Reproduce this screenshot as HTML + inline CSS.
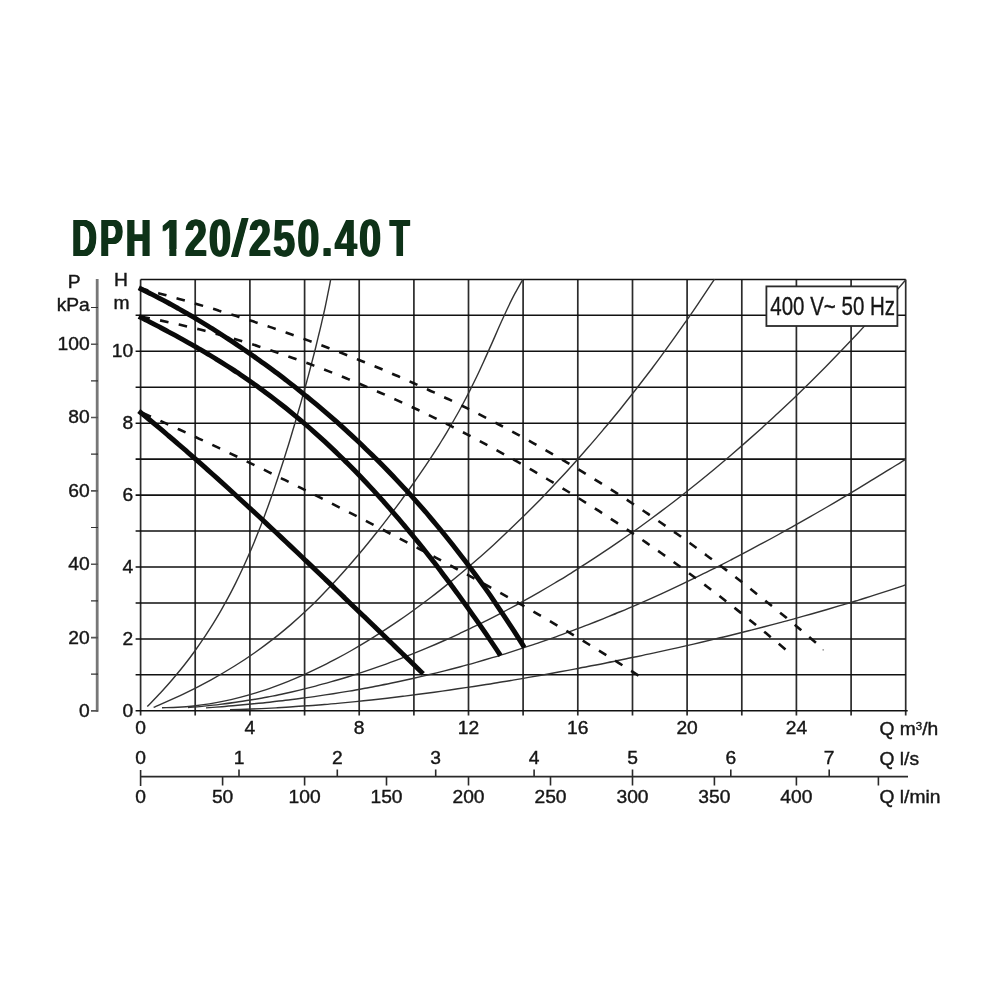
<!DOCTYPE html>
<html lang="en">
<head>
<meta charset="utf-8">
<title>DPH 120/250.40 T</title>
<style>
html,body{margin:0;padding:0;background:#fff;}
body{width:1000px;height:1000px;overflow:hidden;position:relative;}
svg{display:block;position:absolute;left:0;top:0;filter:blur(0.35px);}
text{font-family:"Liberation Sans",sans-serif;}
.gv{stroke:#2b2b2b;stroke-width:1.7;fill:none;}
.gh{stroke:#111;stroke-width:1.55;fill:none;}
.th{stroke:#333;stroke-width:1.4;fill:none;}
.da{stroke:#111;stroke-width:2.6;fill:none;stroke-dasharray:8.60 10.45;}
.tk{stroke:#0a0a0a;stroke-width:4.9;fill:none;stroke-linecap:butt;}
.lb{font-size:18.5px;fill:#161616;stroke:#161616;stroke-width:0.4px;}
.lg{font-size:25px;fill:#161616;stroke:#161616;stroke-width:0.35px;}
.tt{position:absolute;left:0;top:0;margin:0;width:1000px;height:0;font:bold 51.5px/1 "Liberation Sans",sans-serif;color:#0e3218;white-space:nowrap;filter:blur(0.35px);}
.tt span{position:absolute;top:213px;display:inline-block;transform-origin:0 0;}
.t1{left:71.6px;transform:scaleX(0.665);letter-spacing:4.9px;text-shadow:1.6px 0 0 #0e3218,-1.6px 0 0 #0e3218,0.8px 0 0 #0e3218,-0.8px 0 0 #0e3218;}
.t6{left:160.8px;transform:scaleX(0.765);text-shadow:1.2px 0 0 #0e3218,-1.2px 0 0 #0e3218;clip-path:polygon(0 0,100% 0,100% 70%,70% 70%,70% 100%,38% 100%,38% 70%,0 70%);}
.t2{left:184.9px;transform:scaleX(0.765);letter-spacing:2.75px;text-shadow:1.2px 0 0 #0e3218,-1.2px 0 0 #0e3218;}
.tt .t4{left:231px;transform:skewX(-5deg) scaleY(1.02);transform-origin:0 43.6px;text-shadow:0.5px 0 0 #0e3218,-0.5px 0 0 #0e3218;}
.t5{left:248.6px;transform:scaleX(0.765);letter-spacing:3.0px;text-shadow:1.2px 0 0 #0e3218,-1.2px 0 0 #0e3218;}
.t3{left:389.5px;transform:scaleX(0.62);text-shadow:1.6px 0 0 #0e3218,-1.6px 0 0 #0e3218,0.8px 0 0 #0e3218,-0.8px 0 0 #0e3218;}
</style>
</head>
<body>
<svg width="1000" height="1000" viewBox="0 0 1000 1000">
<rect width="1000" height="1000" fill="#fff"/>
<path class="gv" d="M140.6 279.4V715.6M195.2 279.4V715.6M249.9 279.4V715.6M304.6 279.4V715.6M359.2 279.4V715.6M413.9 279.4V715.6M468.5 279.4V715.6M523.1 279.4V715.6M577.8 279.4V715.6M632.5 279.4V715.6M687.1 279.4V715.6M741.8 279.4V715.6M796.4 279.4V715.6M851.1 279.4V715.6M905.7 279.4V715.6"/>
<path class="gh" d="M135.6 710.8H907.7M135.6 674.8H905.7M135.6 638.9H905.7M135.6 602.9H905.7M135.6 567H905.7M135.6 531H905.7M135.6 495.1H905.7M135.6 459.1H905.7M135.6 423.2H905.7M135.6 387.2H905.7M135.6 351.3H905.7M135.6 315.3H905.7M140.6 279.4H905.7"/>
<path class="th" d="M147.3 706.6C149.5 704.3 156.3 697.4 160.6 692.8C164.8 688.2 168.9 683.6 172.8 679C176.7 674.4 180.5 669.9 184.1 665.3C187.7 660.7 191.2 656.1 194.5 651.5C197.8 646.9 201 642.3 204.1 637.7C207.2 633.1 210.1 628.5 213 623.9C215.8 619.3 218.6 614.7 221.2 610.1C223.8 605.5 226.4 600.9 228.8 596.4C231.3 591.8 233.6 587.2 235.9 582.6C238.2 578 240.4 573.4 242.5 568.8C244.7 564.2 246.7 559.6 248.7 555C250.8 550.4 252.7 545.8 254.6 541.2C256.5 536.6 258.3 532 260.1 527.5C261.9 522.9 263.6 518.3 265.3 513.7C267 509.1 268.7 504.5 270.3 499.9C272 495.3 273.6 490.7 275.1 486.1C276.7 481.5 278.2 476.9 279.7 472.3C281.2 467.7 282.7 463.1 284.2 458.5C285.6 454 287 449.4 288.5 444.8C289.9 440.2 291.3 435.6 292.6 431C294 426.4 295.4 421.8 296.7 417.2C298 412.6 299.4 408 300.7 403.4C302 398.8 303.2 394.2 304.5 389.6C305.8 385.1 307 380.5 308.3 375.9C309.5 371.3 310.7 366.7 311.9 362.1C313.1 357.5 314.3 352.9 315.5 348.3C316.6 343.7 317.7 339.1 318.8 334.5C320 329.9 321 325.3 322.1 320.7C323.2 316.1 324.2 311.6 325.2 307C326.2 302.4 327.1 297.8 328 293.2C329 288.6 330.3 281.7 330.7 279.4"/>
<path class="th" d="M153.6 707.4C158.7 705.1 174.7 698.2 184.3 693.6C193.9 689 202.7 684.4 211.1 679.8C219.5 675.2 227.2 670.6 234.6 666C242 661.4 248.9 656.8 255.4 652.2C262 647.6 268.1 643 274 638.4C279.9 633.8 285.4 629.2 290.8 624.6C296.1 620 301.2 615.4 306.1 610.8C311 606.2 315.7 601.6 320.2 596.9C324.8 592.3 329.2 587.7 333.5 583.1C337.7 578.5 341.9 573.9 345.9 569.3C350 564.7 353.9 560.1 357.8 555.5C361.7 550.9 365.5 546.3 369.2 541.7C373 537.1 376.6 532.5 380.3 527.9C383.9 523.3 387.4 518.7 390.9 514.1C394.4 509.5 397.8 504.9 401.2 500.3C404.6 495.7 407.9 491.1 411.2 486.5C414.5 481.9 417.7 477.3 420.8 472.7C424 468.1 427.1 463.5 430.1 458.9C433.1 454.3 436.1 449.7 439 445.1C441.8 440.5 444.7 435.9 447.4 431.3C450.2 426.7 452.8 422.1 455.4 417.5C458.1 412.9 460.6 408.3 463 403.7C465.5 399.1 467.9 394.5 470.2 389.9C472.5 385.2 474.8 380.6 477 376C479.2 371.4 481.3 366.8 483.4 362.2C485.5 357.6 487.6 353 489.6 348.4C491.7 343.8 493.7 339.2 495.7 334.6C497.7 330 499.7 325.4 501.8 320.8C503.9 316.2 506 311.6 508.2 307C510.4 302.4 512.6 297.8 515.1 293.2C517.5 288.6 521.5 281.7 522.8 279.4"/>
<path class="th" d="M162 707.7C164.6 707.6 172.5 707.6 177.8 707.3C183 707 188.3 706.6 193.6 706C198.8 705.4 204.1 704.7 209.4 703.9C214.6 703 219.9 702 225.1 700.9C230.4 699.8 235.7 698.5 240.9 697.1C246.2 695.7 251.5 694.2 256.7 692.6C262 690.9 267.2 689.2 272.5 687.3C277.8 685.4 283 683.4 288.3 681.3C293.5 679.2 298.8 676.9 304.1 674.6C309.3 672.3 314.6 669.8 319.9 667.2C325.1 664.6 330.4 662 335.6 659.2C340.9 656.4 346.2 653.5 351.4 650.5C356.7 647.5 362 644.4 367.2 641.2C372.5 638 377.7 634.6 383 631.2C388.3 627.8 393.5 624.3 398.8 620.7C404 617.1 409.3 613.4 414.6 609.5C419.8 605.7 425.1 601.8 430.4 597.8C435.6 593.8 440.9 589.7 446.1 585.4C451.4 581.2 456.7 576.9 461.9 572.5C467.2 568.1 472.5 563.6 477.7 559C483 554.4 488.2 549.7 493.5 544.9C498.8 540.1 504 535.2 509.3 530.1C514.5 525.1 519.8 520 525.1 514.8C530.3 509.6 535.6 504.3 540.9 498.9C546.1 493.5 551.4 488 556.6 482.3C561.9 476.7 567.2 471 572.4 465.2C577.7 459.3 583 453.4 588.2 447.3C593.5 441.3 598.7 435.1 604 428.8C609.3 422.6 614.5 416.2 619.8 409.7C625 403.1 630.3 396.5 635.6 389.8C640.8 383 646.1 376.2 651.4 369.2C656.6 362.2 661.9 355.1 667.1 347.8C672.4 340.6 677.7 333.2 682.9 325.7C688.2 318.2 693.5 310.6 698.7 302.8C704 295 711.9 283 714.5 279.1"/>
<path class="th" d="M188 707.5C190.7 707.2 198.6 706.7 203.9 706.1C209.3 705.6 214.6 705.1 219.9 704.4C225.2 703.8 230.5 703.1 235.8 702.3C241.2 701.6 246.5 700.7 251.8 699.8C257.1 698.9 262.4 698 267.7 697C273.1 695.9 278.4 694.9 283.7 693.7C289 692.6 294.3 691.4 299.6 690.1C305 688.8 310.3 687.5 315.6 686.1C320.9 684.7 326.2 683.2 331.5 681.7C336.9 680.2 342.2 678.6 347.5 677C352.8 675.3 358.1 673.6 363.4 671.9C368.8 670.1 374.1 668.3 379.4 666.4C384.7 664.6 390 662.6 395.3 660.6C400.7 658.6 406 656.6 411.3 654.4C416.6 652.3 421.9 650.2 427.2 647.9C432.5 645.7 437.9 643.4 443.2 641C448.5 638.7 453.8 636.3 459.1 633.8C464.4 631.3 469.8 628.8 475.1 626.2C480.4 623.6 485.7 621 491 618.3C496.3 615.6 501.7 612.8 507 610C512.3 607.2 517.6 604.3 522.9 601.3C528.2 598.4 533.6 595.4 538.9 592.3C544.2 589.3 549.5 586.2 554.8 583C560.1 579.8 565.5 576.6 570.8 573.3C576.1 570 581.4 566.6 586.7 563.2C592 559.8 597.4 556.3 602.7 552.7C608 549.2 613.3 545.6 618.6 541.9C623.9 538.3 629.3 534.6 634.6 530.8C639.9 527 645.2 523.1 650.5 519.2C655.8 515.3 661.2 511.3 666.5 507.3C671.8 503.3 677.1 499.2 682.4 495C687.7 490.8 693 486.6 698.4 482.3C703.7 478 709 473.7 714.3 469.3C719.6 464.8 724.9 460.3 730.3 455.8C735.6 451.2 740.9 446.6 746.2 441.9C751.5 437.2 756.8 432.5 762.2 427.7C767.5 422.8 772.8 418 778.1 413C783.4 408 788.7 403 794.1 397.9C799.4 392.8 804.7 387.6 810 382.4C815.3 377.1 820.6 371.8 826 366.4C831.3 361 836.6 355.6 841.9 350.1C847.2 344.5 852.5 338.9 857.9 333.2C863.2 327.5 868.5 321.8 873.8 315.9C879.1 310.1 884.4 304.2 889.8 298.2C895.1 292.2 903 283 905.7 280"/>
<path class="th" d="M206 707.9C208.7 707.7 216.6 707.1 221.9 706.7C227.2 706.3 232.5 705.8 237.8 705.3C243.1 704.9 248.4 704.4 253.7 703.8C259 703.3 264.3 702.8 269.6 702.2C274.9 701.6 280.2 701 285.5 700.3C290.8 699.7 296.1 699 301.4 698.3C306.7 697.6 312 696.9 317.3 696.1C322.6 695.3 327.9 694.5 333.2 693.7C338.5 692.8 343.8 692 349.1 691.1C354.4 690.2 359.7 689.2 365 688.2C370.3 687.3 375.6 686.2 380.9 685.2C386.2 684.2 391.5 683.1 396.8 682C402.1 680.8 407.4 679.7 412.7 678.5C418 677.3 423.3 676 428.6 674.8C433.9 673.5 439.2 672.2 444.5 670.9C449.8 669.5 455.1 668.1 460.4 666.7C465.7 665.3 471 663.8 476.3 662.3C481.6 660.8 486.9 659.2 492.2 657.7C497.5 656.1 502.8 654.5 508.1 652.8C513.4 651.1 518.7 649.4 524 647.7C529.3 645.9 534.6 644.2 539.9 642.3C545.2 640.5 550.5 638.7 555.9 636.8C561.2 634.9 566.5 632.9 571.8 630.9C577.1 629 582.4 626.9 587.7 624.9C593 622.8 598.3 620.7 603.6 618.6C608.9 616.4 614.2 614.3 619.5 612C624.8 609.8 630.1 607.6 635.4 605.3C640.7 603 646 600.6 651.3 598.3C656.6 595.9 661.9 593.5 667.2 591.1C672.5 588.6 677.8 586.1 683.1 583.6C688.4 581.1 693.7 578.5 699 575.9C704.3 573.4 709.6 570.7 714.9 568.1C720.2 565.4 725.5 562.7 730.8 560C736.1 557.3 741.4 554.5 746.7 551.7C752 548.9 757.3 546.1 762.6 543.2C767.9 540.4 773.2 537.5 778.5 534.5C783.8 531.6 789.1 528.7 794.4 525.7C799.7 522.7 805 519.7 810.3 516.7C815.6 513.6 820.9 510.5 826.2 507.5C831.5 504.4 836.8 501.2 842.1 498.1C847.4 495 852.7 491.8 858 488.6C863.3 485.4 868.6 482.2 873.9 478.9C879.2 475.7 884.5 472.5 889.8 469.2C895.1 465.9 903 460.9 905.7 459.3"/>
<path class="th" d="M230 709.6C232.6 709.5 240.5 709.3 245.7 709.2C251 709 256.2 708.8 261.4 708.6C266.7 708.3 271.9 708.1 277.1 707.8C282.4 707.5 287.6 707.2 292.9 706.8C298.1 706.5 303.3 706.1 308.6 705.7C313.8 705.4 319 704.9 324.3 704.5C329.5 704.1 334.8 703.6 340 703.1C345.2 702.6 350.5 702.1 355.7 701.6C360.9 701.1 366.2 700.5 371.4 700C376.7 699.4 381.9 698.8 387.1 698.2C392.4 697.6 397.6 696.9 402.9 696.3C408.1 695.6 413.3 695 418.6 694.3C423.8 693.6 429 692.9 434.3 692.2C439.5 691.5 444.8 690.7 450 690C455.2 689.2 460.5 688.4 465.7 687.6C470.9 686.9 476.2 686.1 481.4 685.2C486.7 684.4 491.9 683.6 497.1 682.7C502.4 681.9 507.6 681 512.9 680.1C518.1 679.3 523.3 678.4 528.6 677.4C533.8 676.5 539 675.6 544.3 674.7C549.5 673.7 554.8 672.8 560 671.8C565.2 670.8 570.5 669.9 575.7 668.9C580.9 667.9 586.2 666.9 591.4 665.8C596.7 664.8 601.9 663.8 607.1 662.7C612.4 661.7 617.6 660.6 622.8 659.5C628.1 658.5 633.3 657.4 638.6 656.3C643.8 655.1 649 654 654.3 652.9C659.5 651.7 664.8 650.6 670 649.4C675.2 648.3 680.5 647.1 685.7 645.9C690.9 644.7 696.2 643.5 701.4 642.3C706.7 641 711.9 639.8 717.1 638.5C722.4 637.3 727.6 636 732.8 634.7C738.1 633.4 743.3 632.1 748.6 630.8C753.8 629.4 759 628.1 764.3 626.7C769.5 625.4 774.8 624 780 622.6C785.2 621.2 790.5 619.8 795.7 618.3C800.9 616.9 806.2 615.4 811.4 614C816.7 612.5 821.9 611 827.1 609.5C832.4 607.9 837.6 606.4 842.8 604.8C848.1 603.3 853.3 601.7 858.6 600.1C863.8 598.5 869 596.8 874.3 595.2C879.5 593.5 884.7 591.8 890 590.1C895.2 588.4 903.1 585.7 905.7 584.9"/>
<path class="da" stroke-dashoffset="-0.5" d="M139.3 288C141 288.4 145.9 289.8 149.3 290.7C152.6 291.6 155.9 292.5 159.2 293.4C162.5 294.3 165.9 295.2 169.2 296.1C172.5 297 175.8 298 179.1 298.9C182.5 299.9 185.8 300.8 189.1 301.8C192.4 302.7 195.7 303.7 199.1 304.7C202.4 305.7 205.7 306.6 209 307.6C212.3 308.6 215.7 309.6 219 310.7C222.3 311.7 225.6 312.7 228.9 313.7C232.3 314.8 235.6 315.8 238.9 316.9C242.2 317.9 245.5 319 248.9 320.1C252.2 321.1 255.5 322.2 258.8 323.3C262.1 324.4 265.5 325.5 268.8 326.6C272.1 327.8 275.4 328.9 278.7 330C282.1 331.2 285.4 332.3 288.7 333.5C292 334.6 295.3 335.8 298.7 337C302 338.2 305.3 339.4 308.6 340.6C311.9 341.8 315.3 343 318.6 344.3C321.9 345.5 325.2 346.7 328.5 348C331.9 349.3 335.2 350.5 338.5 351.8C341.8 353.1 345.1 354.4 348.5 355.7C351.8 357 355.1 358.3 358.4 359.7C361.7 361 365.1 362.4 368.4 363.7C371.7 365.1 375 366.4 378.3 367.8C381.7 369.2 385 370.6 388.3 372C391.6 373.5 394.9 374.9 398.3 376.3C401.6 377.8 404.9 379.2 408.2 380.7C411.5 382.2 414.9 383.7 418.2 385.2C421.5 386.7 424.8 388.2 428.1 389.7C431.5 391.2 434.8 392.8 438.1 394.3C441.4 395.9 444.7 397.5 448.1 399C451.4 400.6 454.7 402.2 458 403.8C461.3 405.5 464.7 407.1 468 408.7C471.3 410.4 474.6 412.1 477.9 413.7C481.3 415.4 484.6 417.1 487.9 418.8C491.2 420.5 494.6 422.2 497.9 424C501.2 425.7 504.5 427.5 507.8 429.3C511.2 431 514.5 432.8 517.8 434.6C521.1 436.4 524.4 438.2 527.8 440.1C531.1 441.9 534.4 443.8 537.7 445.6C541 447.5 544.4 449.4 547.7 451.3C551 453.2 554.3 455.1 557.6 457C561 459 564.3 460.9 567.6 462.9C570.9 464.9 574.2 466.8 577.6 468.8C580.9 470.8 584.2 472.9 587.5 474.9C590.8 476.9 594.2 479 597.5 481.1C600.8 483.1 604.1 485.2 607.4 487.3C610.8 489.4 614.1 491.5 617.4 493.7C620.7 495.8 624 498 627.4 500.1C630.7 502.3 634 504.5 637.3 506.7C640.6 508.9 644 511.1 647.3 513.4C650.6 515.6 653.9 517.9 657.2 520.2C660.6 522.4 663.9 524.7 667.2 527.1C670.5 529.4 673.8 531.7 677.2 534C680.5 536.4 683.8 538.8 687.1 541.1C690.4 543.5 693.8 545.9 697.1 548.4C700.4 550.8 703.7 553.2 707 555.7C710.4 558.1 713.7 560.6 717 563.1C720.3 565.6 723.6 568.1 727 570.6C730.3 573.2 733.6 575.7 736.9 578.3C740.2 580.8 743.6 583.4 746.9 586C750.2 588.6 753.5 591.3 756.8 593.9C760.2 596.5 763.5 599.2 766.8 601.9C770.1 604.5 773.4 607.2 776.8 609.9C780.1 612.7 783.4 615.4 786.7 618.1C790 620.9 793.4 623.7 796.7 626.4C800 629.2 803.3 632 806.6 634.9C810 637.7 814.9 642 816.6 643.4"/>
<path class="da" stroke-dashoffset="-2.1" d="M139.3 316.4C141 316.7 145.9 317.6 149.2 318.2C152.6 318.9 155.9 319.5 159.2 320.2C162.5 320.9 165.8 321.6 169.1 322.3C172.5 323 175.8 323.8 179.1 324.5C182.4 325.3 185.7 326.1 189 326.9C192.3 327.7 195.7 328.5 199 329.3C202.3 330.2 205.6 331 208.9 331.9C212.2 332.8 215.6 333.7 218.9 334.6C222.2 335.5 225.5 336.4 228.8 337.4C232.1 338.3 235.4 339.3 238.8 340.3C242.1 341.3 245.4 342.3 248.7 343.3C252 344.3 255.3 345.3 258.7 346.4C262 347.5 265.3 348.5 268.6 349.6C271.9 350.7 275.2 351.8 278.5 353C281.9 354.1 285.2 355.2 288.5 356.4C291.8 357.5 295.1 358.7 298.4 359.9C301.8 361.1 305.1 362.3 308.4 363.5C311.7 364.8 315 366 318.3 367.3C321.6 368.5 325 369.8 328.3 371.1C331.6 372.4 334.9 373.7 338.2 375C341.5 376.4 344.9 377.7 348.2 379.1C351.5 380.4 354.8 381.8 358.1 383.2C361.4 384.6 364.7 386 368.1 387.4C371.4 388.8 374.7 390.2 378 391.7C381.3 393.1 384.6 394.6 388 396.1C391.3 397.6 394.6 399.1 397.9 400.6C401.2 402.1 404.5 403.6 407.8 405.2C411.2 406.7 414.5 408.3 417.8 409.8C421.1 411.4 424.4 413 427.7 414.6C431.1 416.2 434.4 417.8 437.7 419.5C441 421.1 444.3 422.8 447.6 424.4C450.9 426.1 454.3 427.8 457.6 429.5C460.9 431.2 464.2 432.9 467.5 434.6C470.8 436.3 474.2 438.1 477.5 439.8C480.8 441.6 484.1 443.4 487.4 445.2C490.7 446.9 494 448.7 497.4 450.6C500.7 452.4 504 454.2 507.3 456.1C510.6 457.9 513.9 459.8 517.3 461.7C520.6 463.5 523.9 465.4 527.2 467.3C530.5 469.2 533.8 471.2 537.1 473.1C540.5 475.1 543.8 477 547.1 479C550.4 481 553.7 482.9 557 484.9C560.4 486.9 563.7 489 567 491C570.3 493 573.6 495.1 576.9 497.1C580.2 499.2 583.6 501.3 586.9 503.4C590.2 505.5 593.5 507.6 596.8 509.7C600.1 511.9 603.5 514 606.8 516.2C610.1 518.3 613.4 520.5 616.7 522.7C620 524.9 623.3 527.1 626.7 529.3C630 531.5 633.3 533.8 636.6 536C639.9 538.3 643.2 540.6 646.6 542.9C649.9 545.2 653.2 547.5 656.5 549.8C659.8 552.1 663.1 554.5 666.4 556.8C669.8 559.2 673.1 561.6 676.4 564C679.7 566.4 683 568.8 686.3 571.2C689.7 573.7 693 576.1 696.3 578.6C699.6 581 702.9 583.5 706.2 586C709.5 588.5 712.9 591.1 716.2 593.6C719.5 596.1 722.8 598.7 726.1 601.3C729.4 603.8 732.8 606.4 736.1 609.1C739.4 611.7 742.7 614.3 746 617C749.3 619.6 752.6 622.3 756 625C759.3 627.7 762.6 630.4 765.9 633.1C769.2 635.8 772.5 638.6 775.9 641.4C779.2 644.1 784.1 648.4 785.8 649.8"/>
<path class="da" stroke-dashoffset="-4.1" d="M139.3 411.5C141 412.3 146 414.5 149.3 415.9C152.6 417.4 156 418.9 159.3 420.4C162.6 421.9 166 423.4 169.3 424.9C172.6 426.4 175.9 428 179.3 429.5C182.6 431 185.9 432.6 189.3 434.1C192.6 435.6 195.9 437.2 199.3 438.8C202.6 440.3 205.9 441.9 209.3 443.4C212.6 445 215.9 446.6 219.3 448.2C222.6 449.8 225.9 451.3 229.2 452.9C232.6 454.5 235.9 456.1 239.2 457.7C242.6 459.3 245.9 460.9 249.2 462.6C252.6 464.2 255.9 465.8 259.2 467.4C262.6 469.1 265.9 470.7 269.2 472.3C272.6 474 275.9 475.6 279.2 477.2C282.5 478.9 285.9 480.5 289.2 482.2C292.5 483.8 295.9 485.5 299.2 487.2C302.5 488.8 305.9 490.5 309.2 492.2C312.5 493.8 315.9 495.5 319.2 497.2C322.5 498.9 325.9 500.5 329.2 502.2C332.5 503.9 335.8 505.6 339.2 507.3C342.5 509 345.8 510.7 349.2 512.4C352.5 514.1 355.8 515.8 359.2 517.5C362.5 519.2 365.8 520.9 369.2 522.7C372.5 524.4 375.8 526.1 379.2 527.8C382.5 529.6 385.8 531.3 389.1 533C392.5 534.8 395.8 536.5 399.1 538.2C402.5 540 405.8 541.7 409.1 543.5C412.5 545.3 415.8 547 419.1 548.8C422.5 550.5 425.8 552.3 429.1 554.1C432.5 555.9 435.8 557.6 439.1 559.4C442.5 561.2 445.8 563 449.1 564.8C452.4 566.6 455.8 568.4 459.1 570.2C462.4 572 465.8 573.8 469.1 575.6C472.4 577.4 475.8 579.3 479.1 581.1C482.4 582.9 485.8 584.8 489.1 586.6C492.4 588.5 495.8 590.3 499.1 592.2C502.4 594 505.7 595.9 509.1 597.8C512.4 599.6 515.7 601.5 519.1 603.4C522.4 605.3 525.7 607.2 529.1 609.1C532.4 611 535.7 612.9 539.1 614.9C542.4 616.8 545.7 618.7 549.1 620.7C552.4 622.6 555.7 624.6 559 626.5C562.4 628.5 565.7 630.5 569 632.4C572.4 634.4 575.7 636.4 579 638.4C582.4 640.4 585.7 642.5 589 644.5C592.4 646.5 595.7 648.6 599 650.6C602.4 652.7 605.7 654.7 609 656.8C612.3 658.9 615.7 661 619 663.1C622.3 665.2 625.7 667.3 629 669.5C632.3 671.6 637.3 674.9 639 676"/>
<circle cx="823.2" cy="649.8" r="0.9" fill="#999"/>
<path class="tk" d="M138.8 287.8C140.4 288.6 145.4 291 148.7 292.7C152 294.4 155.3 296 158.6 297.8C161.9 299.5 165.2 301.3 168.5 303C171.7 304.8 175 306.7 178.3 308.5C181.6 310.4 184.9 312.2 188.2 314.2C191.5 316.1 194.8 318 198.1 320C201.4 322 204.7 324 208 326C211.3 328 214.6 330.1 217.9 332.2C221.2 334.3 224.5 336.4 227.8 338.6C231.1 340.8 234.4 342.9 237.6 345.2C240.9 347.4 244.2 349.6 247.5 351.9C250.8 354.2 254.1 356.5 257.4 358.9C260.7 361.2 264 363.6 267.3 366C270.6 368.4 273.9 370.8 277.2 373.3C280.5 375.8 283.8 378.3 287.1 380.9C290.4 383.4 293.7 386 297 388.6C300.2 391.2 303.5 393.9 306.8 396.5C310.1 399.2 313.4 402 316.7 404.7C320 407.5 323.3 410.3 326.6 413.1C329.9 416 333.2 418.8 336.5 421.7C339.8 424.7 343.1 427.6 346.4 430.6C349.7 433.6 353 436.7 356.3 439.8C359.6 442.8 362.9 446 366.1 449.2C369.4 452.3 372.7 455.6 376 458.8C379.3 462.1 382.6 465.4 385.9 468.8C389.2 472.2 392.5 475.6 395.8 479.1C399.1 482.6 402.4 486.1 405.7 489.7C409 493.2 412.3 496.9 415.6 500.6C418.9 504.3 422.2 508 425.5 511.8C428.7 515.7 432 519.5 435.3 523.5C438.6 527.4 441.9 531.4 445.2 535.5C448.5 539.6 451.8 543.7 455.1 547.9C458.4 552.1 461.7 556.4 465 560.7C468.3 565.1 471.6 569.5 474.9 574C478.2 578.5 481.5 583 484.8 587.7C488.1 592.3 491.4 597 494.6 601.9C497.9 606.7 501.2 611.6 504.5 616.5C507.8 621.5 511.1 626.6 514.4 631.7C517.7 636.9 522.7 644.8 524.3 647.5"/>
<path class="tk" d="M138.8 316.5C140.4 317.3 145.3 319.8 148.6 321.4C151.8 323.1 155.1 324.8 158.4 326.4C161.6 328.1 164.9 329.8 168.1 331.6C171.4 333.3 174.7 335.1 177.9 336.8C181.2 338.6 184.4 340.4 187.7 342.3C191 344.1 194.2 345.9 197.5 347.8C200.7 349.7 204 351.6 207.2 353.6C210.5 355.6 213.8 357.5 217 359.6C220.3 361.6 223.5 363.6 226.8 365.7C230.1 367.8 233.3 370 236.6 372.1C239.8 374.3 243.1 376.5 246.4 378.8C249.6 381 252.9 383.3 256.1 385.6C259.4 388 262.7 390.3 265.9 392.8C269.2 395.2 272.4 397.6 275.7 400.1C279 402.7 282.2 405.2 285.5 407.8C288.7 410.4 292 413.1 295.3 415.8C298.5 418.5 301.8 421.2 305 424C308.3 426.8 311.6 429.7 314.8 432.6C318.1 435.5 321.3 438.4 324.6 441.4C327.8 444.4 331.1 447.5 334.4 450.6C337.6 453.7 340.9 456.8 344.1 460C347.4 463.3 350.7 466.5 353.9 469.8C357.2 473.2 360.4 476.5 363.7 480C367 483.4 370.2 486.9 373.5 490.4C376.7 493.9 380 497.5 383.3 501.2C386.5 504.8 389.8 508.5 393 512.3C396.3 516 399.6 519.8 402.8 523.7C406.1 527.6 409.3 531.5 412.6 535.5C415.9 539.4 419.1 543.5 422.4 547.5C425.6 551.6 428.9 555.8 432.2 559.9C435.4 564.1 438.7 568.4 441.9 572.7C445.2 577 448.4 581.3 451.7 585.7C455 590.1 458.2 594.6 461.5 599.1C464.7 603.6 468 608.1 471.3 612.8C474.5 617.4 477.8 622 481 626.7C484.3 631.4 487.6 636.2 490.8 641C494.1 645.8 499 653.2 500.6 655.6"/>
<path class="tk" d="M138.8 411C140.4 412.3 145.3 416.3 148.6 419C151.9 421.7 155.1 424.4 158.4 427.2C161.7 429.9 165 432.7 168.2 435.5C171.5 438.2 174.8 441 178 443.9C181.3 446.7 184.6 449.5 187.8 452.3C191.1 455.2 194.4 458.1 197.6 460.9C200.9 463.8 204.2 466.7 207.4 469.6C210.7 472.5 214 475.5 217.3 478.4C220.5 481.3 223.8 484.3 227.1 487.3C230.3 490.2 233.6 493.2 236.9 496.2C240.1 499.2 243.4 502.2 246.7 505.2C249.9 508.2 253.2 511.2 256.5 514.2C259.8 517.3 263 520.3 266.3 523.4C269.6 526.4 272.8 529.5 276.1 532.5C279.4 535.6 282.6 538.7 285.9 541.8C289.2 544.9 292.4 547.9 295.7 551C299 554.1 302.2 557.2 305.5 560.4C308.8 563.5 312.1 566.6 315.3 569.7C318.6 572.8 321.9 575.9 325.1 579.1C328.4 582.2 331.7 585.3 334.9 588.5C338.2 591.6 341.5 594.8 344.7 597.9C348 601.1 351.3 604.2 354.6 607.4C357.8 610.5 361.1 613.7 364.4 616.8C367.6 620 370.9 623.2 374.2 626.3C377.4 629.5 380.7 632.6 384 635.8C387.2 639 390.5 642.1 393.8 645.3C397 648.5 400.3 651.6 403.6 654.8C406.9 658 410.1 661.1 413.4 664.3C416.7 667.5 421.6 672.2 423.2 673.8"/>
<rect x="766.4" y="286.4" width="131" height="39.6" fill="#fff" stroke="#2a2a2a" stroke-width="1.8"/>
<text class="lg" text-anchor="start" transform="translate(770.3 315.2) scale(0.82 1)">400 V~ 50 Hz</text>
<path d="M97.2 279V711.8" stroke="#777" stroke-width="2.8" fill="none"/>
<path d="M91 710.9H98M91 637.6H98M91 564.2H98M91 490.9H98M91 417.5H98M91 344.2H98" stroke="#555" stroke-width="1.6" fill="none"/>
<path d="M91 674.2H98M91 600.9H98M91 527.5H98M91 454.2H98M91 380.9H98M91 307.5H98" stroke="#333" stroke-width="1.2" fill="none"/>
<text class="lb" text-anchor="end" transform="translate(89.6 717.4) scale(1.04 1)">0</text>
<text class="lb" text-anchor="end" transform="translate(89.6 643.9) scale(1.04 1)">20</text>
<text class="lb" text-anchor="end" transform="translate(89.6 570.3) scale(1.04 1)">40</text>
<text class="lb" text-anchor="end" transform="translate(89.6 496.8) scale(1.04 1)">60</text>
<text class="lb" text-anchor="end" transform="translate(89.6 423.2) scale(1.04 1)">80</text>
<text class="lb" text-anchor="end" transform="translate(89.6 349.7) scale(1.04 1)">100</text>
<text class="lb" text-anchor="middle" transform="translate(74.2 288.1) scale(1.04 1)">P</text>
<text class="lb" text-anchor="end" transform="translate(89.8 311) scale(1.04 1)">kPa</text>
<text class="lb" text-anchor="middle" transform="translate(121 285.6) scale(1.04 1)">H</text>
<text class="lb" text-anchor="middle" transform="translate(121.5 308.6) scale(1.04 1)">m</text>
<text class="lb" text-anchor="end" transform="translate(133.2 716.8) scale(1.04 1)">0</text>
<text class="lb" text-anchor="end" transform="translate(133.2 644.9) scale(1.04 1)">2</text>
<text class="lb" text-anchor="end" transform="translate(133.2 573) scale(1.04 1)">4</text>
<text class="lb" text-anchor="end" transform="translate(133.2 501.1) scale(1.04 1)">6</text>
<text class="lb" text-anchor="end" transform="translate(133.2 429.2) scale(1.04 1)">8</text>
<text class="lb" text-anchor="end" transform="translate(133.2 357.3) scale(1.04 1)">10</text>
<text class="lb" text-anchor="middle" transform="translate(140.6 733.5) scale(1.04 1)">0</text>
<text class="lb" text-anchor="middle" transform="translate(249.9 733.5) scale(1.04 1)">4</text>
<text class="lb" text-anchor="middle" transform="translate(359.2 733.5) scale(1.04 1)">8</text>
<text class="lb" text-anchor="middle" transform="translate(468.5 733.5) scale(1.04 1)">12</text>
<text class="lb" text-anchor="middle" transform="translate(577.8 733.5) scale(1.04 1)">16</text>
<text class="lb" text-anchor="middle" transform="translate(687.1 733.5) scale(1.04 1)">20</text>
<text class="lb" text-anchor="middle" transform="translate(796.4 733.5) scale(1.04 1)">24</text>
<text class="lb" text-anchor="start" transform="translate(879.5 735.2) scale(1.04 1)">Q m<tspan dy="-5.5" font-size="11">3</tspan><tspan dy="5.5">/h</tspan></text>
<text class="lb" text-anchor="start" transform="translate(879.5 764.8) scale(1.04 1)">Q l/s</text>
<text class="lb" text-anchor="start" transform="translate(879.5 803.2) scale(1.04 1)">Q l/min</text>
<path d="M140.2 776.6H908M140.6 770V786M239 769.6V776.6M337.3 769.6V776.6M435.7 769.6V776.6M534.1 769.6V776.6M632.5 769.6V776.6M730.8 769.6V776.6M829.2 769.6V776.6M222.6 776.6V785.6M304.6 776.6V785.6M386.5 776.6V785.6M468.5 776.6V785.6M550.5 776.6V785.6M632.5 776.6V785.6M714.4 776.6V785.6M796.4 776.6V785.6M878.4 776.6V785.6" stroke="#2a2a2a" stroke-width="1.6" fill="none"/>
<text class="lb" text-anchor="middle" transform="translate(140.6 764.2) scale(1.04 1)">0</text>
<text class="lb" text-anchor="middle" transform="translate(239 764.2) scale(1.04 1)">1</text>
<text class="lb" text-anchor="middle" transform="translate(337.3 764.2) scale(1.04 1)">2</text>
<text class="lb" text-anchor="middle" transform="translate(435.7 764.2) scale(1.04 1)">3</text>
<text class="lb" text-anchor="middle" transform="translate(534.1 764.2) scale(1.04 1)">4</text>
<text class="lb" text-anchor="middle" transform="translate(632.5 764.2) scale(1.04 1)">5</text>
<text class="lb" text-anchor="middle" transform="translate(730.8 764.2) scale(1.04 1)">6</text>
<text class="lb" text-anchor="middle" transform="translate(829.2 764.2) scale(1.04 1)">7</text>
<text class="lb" text-anchor="middle" transform="translate(140.6 802.5) scale(1.04 1)">0</text>
<text class="lb" text-anchor="middle" transform="translate(222.6 802.5) scale(1.04 1)">50</text>
<text class="lb" text-anchor="middle" transform="translate(304.6 802.5) scale(1.04 1)">100</text>
<text class="lb" text-anchor="middle" transform="translate(386.5 802.5) scale(1.04 1)">150</text>
<text class="lb" text-anchor="middle" transform="translate(468.5 802.5) scale(1.04 1)">200</text>
<text class="lb" text-anchor="middle" transform="translate(550.5 802.5) scale(1.04 1)">250</text>
<text class="lb" text-anchor="middle" transform="translate(632.5 802.5) scale(1.04 1)">300</text>
<text class="lb" text-anchor="middle" transform="translate(714.4 802.5) scale(1.04 1)">350</text>
<text class="lb" text-anchor="middle" transform="translate(796.4 802.5) scale(1.04 1)">400</text>
</svg>
<h1 class="tt"><span class="t1">DPH</span> <span class="t6">1</span><span class="t2">20</span><span class="t4">/</span><span class="t5">250.40</span> <span class="t3">T</span></h1>
</body>
</html>
